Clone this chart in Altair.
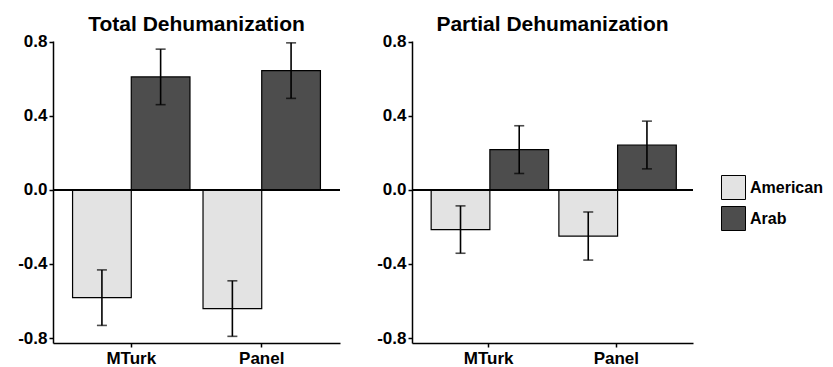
import altair as alt
import pandas as pd

sources = ["MTurk", "Panel"]
groups = ["American", "Arab"]
# order: MTurk-American, MTurk-Arab, Panel-American, Panel-Arab
total_mean = [-0.582, 0.611, -0.641, 0.645]
total_err = [0.150, 0.150, 0.150, 0.150]
partial_mean = [-0.214, 0.218, -0.249, 0.243]
partial_err = [0.128, 0.129, 0.130, 0.129]
colors = ["#e3e3e3", "#4d4d4d"]
y_ticks = [-0.8, -0.4, 0.0, 0.4, 0.8]


def make_df(means, errs):
    rows = []
    i = 0
    for s in sources:
        for g in groups:
            rows.append(dict(source=s, group=g, mean=means[i],
                             lo=means[i] - errs[i], hi=means[i] + errs[i]))
            i += 1
    return pd.DataFrame(rows)


label_expr = "datum.value < 0 ? '-' + format(-datum.value, '.1f') : format(datum.value, '.1f')"


def panel(df, title, width):
    yscale = alt.Scale(domain=[-0.827, 0.805], nice=False, zero=False)
    base = alt.Chart(df).encode(
        x=alt.X("source:N", sort=sources, title=None,
                scale=alt.Scale(paddingInner=0.1, paddingOuter=0.15),
                axis=alt.Axis(labelAngle=0, labelFontSize=17, labelPadding=3)),
        xOffset=alt.XOffset("group:N", sort=groups,
                            scale=alt.Scale(paddingInner=0, paddingOuter=0)),
    )
    bars = base.mark_bar(stroke="black", strokeWidth=1.2).encode(
        y=alt.Y("mean:Q", scale=yscale, title=None,
                axis=alt.Axis(values=y_ticks, labelExpr=label_expr, labelFontSize=17,
                              labelPadding=2)),
        y2=alt.datum(0),
        color=alt.Color("group:N", sort=groups,
                        scale=alt.Scale(domain=groups, range=colors),
                        legend=alt.Legend(title=None, orient="none", legendX=668, legendY=134,
                                          symbolType="square", symbolSize=576,
                                          symbolStrokeColor="black", symbolStrokeWidth=1,
                                          symbolOpacity=1, padding=0,
                                          labelFontSize=16, labelFontWeight="bold",
                                          labelColor="black", rowPadding=2, labelOffset=4)),
    )
    rules = base.mark_rule(color="black", strokeWidth=1.6).encode(
        y=alt.Y("lo:Q", scale=yscale), y2="hi:Q")
    cap_lo = base.mark_tick(color="black", thickness=1.6, size=10).encode(
        y=alt.Y("lo:Q", scale=yscale))
    cap_hi = base.mark_tick(color="black", thickness=1.6, size=10).encode(
        y=alt.Y("hi:Q", scale=yscale))
    zero = alt.Chart(df).mark_rule(color="black", strokeWidth=1.5).encode(
        y=alt.datum(0))
    return alt.layer(bars, rules, cap_lo, cap_hi, zero).properties(
        width=width, height=302,
        title=alt.TitleParams(title, fontSize=21, fontWeight="bold", anchor="middle",
                              offset=-2, frame="group", color="black"),
    )


left = panel(make_df(total_mean, total_err), "Total Dehumanization", 287)
right = panel(make_df(partial_mean, partial_err), "Partial Dehumanization", 281)

chart = alt.hconcat(left, right, spacing=35).configure(
    font="Liberation Sans",
    padding={"left": 9, "top": 5, "right": 0, "bottom": 0},
).configure_view(stroke=None).configure_axis(
    grid=False, domainColor="black", domainWidth=1.5, tickColor="black",
    tickWidth=1.5, tickSize=4, labelColor="black", labelFontWeight="bold",
    labelFont="Liberation Sans",
).configure_title(font="Liberation Sans")

chart.save("out.html", embed_options={"renderer": "svg", "actions": False})
